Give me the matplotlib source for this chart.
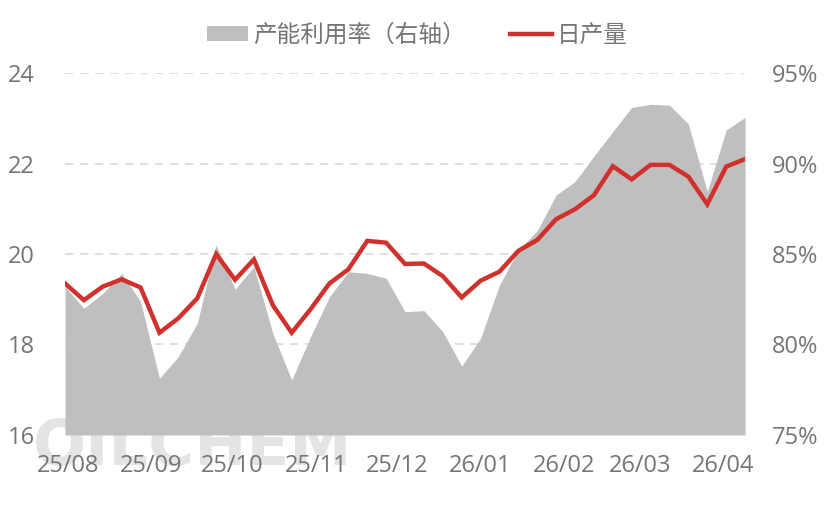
import matplotlib
matplotlib.use("Agg")
import matplotlib.pyplot as plt
import pandas as pd

plt.rcParams['font.family'] = ['Open Sans', 'Noto Sans CJK SC', 'DejaVu Sans']

# ---- data ----
dates = pd.date_range("2025-07-31", periods=37, freq="7D")
daily_output = [19.35, 18.98, 19.28, 19.44, 19.26, 18.26, 18.58, 19.02, 20.00, 19.43,
                19.88, 18.87, 18.26, 18.78, 19.35, 19.66, 20.29, 20.25, 19.78, 19.79,
                19.51, 19.04, 19.41, 19.61, 20.07, 20.31, 20.77, 20.99, 21.30, 21.94,
                21.65, 21.97, 21.97, 21.71, 21.10, 21.93, 22.10]
utilization = [83.2, 82.0, 82.83, 83.93, 82.37, 78.13, 79.33, 81.17, 85.5, 83.05,
               84.3, 80.62, 78.04, 80.43, 82.64, 84.02, 83.93, 83.66, 81.81, 81.87,
               80.71, 78.81, 80.34, 83.29, 85.22, 86.29, 88.26, 89.0, 90.41, 91.76,
               93.1, 93.27, 93.22, 92.18, 88.44, 91.85, 92.55]
month_ticks = ["2025-08-01", "2025-09-01", "2025-10-01", "2025-11-01", "2025-12-01",
               "2026-01-01", "2026-02-01", "2026-03-01", "2026-04-01"]
month_labels = ["25/08", "25/09", "25/10", "25/11", "25/12", "26/01", "26/02", "26/03", "26/04"]
left_ticks = [16, 18, 20, 22, 24]
right_ticks = [75, 80, 85, 90, 95]
legend_labels = ["产能利用率（右轴）", "日产量"]

tick_color = "#757575"
fs = 17

fig = plt.figure(figsize=(8.26, 5.20), dpi=100)
fig.patch.set_facecolor("white")

# watermark (behind the axes)
fig.text(0.040, 0.196, "OILCHEM", fontsize=45, fontweight="bold", color="#e4e4e4",
         family=["DejaVu Sans"], zorder=0, ha="left", va="top")

ax2 = fig.add_axes([0.0787, 0.1635, 0.8233, 0.6961])
ax = ax2.twinx()
ax2.set_zorder(1)
ax.set_zorder(2)
ax2.patch.set_visible(False)
ax.patch.set_visible(False)

# area on right axis
ax2.fill_between(dates, 75, utilization, color="#bfbfbf", linewidth=0, zorder=2,
                 label=legend_labels[0])
ax2.set_ylim(75, 95)
ax2.set_yticks(right_ticks)
ax2.set_yticklabels([f"{v}%" for v in right_ticks])
ax2.yaxis.tick_right()
ax2.grid(axis="y", color="#d9d9d9", linestyle=(0, (5, 4)), linewidth=1.2, zorder=0)
ax2.set_axisbelow(True)
ax2.tick_params(axis="y", length=0, pad=19, labelsize=fs, labelcolor=tick_color)

# line on left axis
ax.plot(dates, daily_output, color="#d0312d", linewidth=3.2, solid_joinstyle="miter",
        label=legend_labels[1], zorder=3)
ax.set_ylim(16, 24)
ax.set_yticks(left_ticks)
ax.yaxis.tick_left()
ax.tick_params(axis="y", length=0, pad=22, labelsize=fs, labelcolor=tick_color)

ax2.set_xlim(dates[0], dates[-1])
ax.set_xlim(dates[0], dates[-1])
ax2.set_xticks(pd.to_datetime(month_ticks))
ax2.set_xticklabels(month_labels)
ax2.tick_params(axis="x", length=0, pad=14, labelsize=fs, labelcolor=tick_color)
ax.tick_params(axis="x", length=0, labelbottom=False)

for a in (ax, ax2):
    for s in a.spines.values():
        s.set_visible(False)

h2, l2 = ax2.get_legend_handles_labels()
h1, l1 = ax.get_legend_handles_labels()
leg = fig.legend(h2 + h1, l2 + l1, loc="center", bbox_to_anchor=(0.505, 0.931), ncol=2,
                 frameon=False, fontsize=fs, handlelength=1.75, handleheight=0.6,
                 handletextpad=0.2, columnspacing=1.9)
for t in leg.get_texts():
    t.set_color(tick_color)

fig.savefig("out.png", dpi=100)
